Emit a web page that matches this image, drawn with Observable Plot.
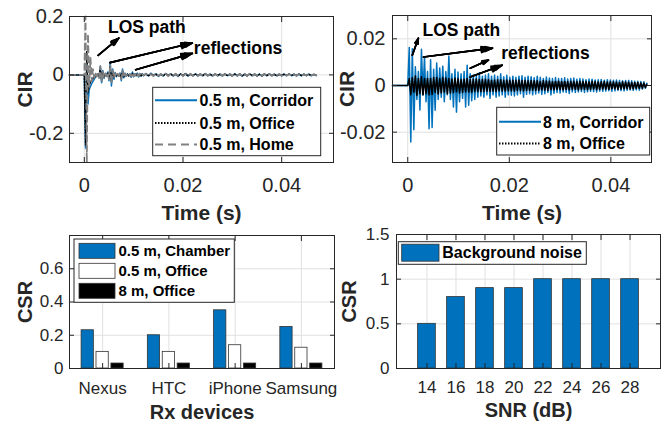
<!DOCTYPE html>
<html><head><meta charset="utf-8">
<script src="https://cdn.jsdelivr.net/npm/d3@7"></script>
<script src="https://cdn.jsdelivr.net/npm/@observablehq/plot@0.6"></script>
<style>
html,body{margin:0;padding:0;background:#fff;}
#root{position:relative;width:668px;height:423px;overflow:hidden;font-family:"Liberation Sans",Arial,sans-serif;}
.panel{position:absolute;}
#overlay{position:absolute;left:0;top:0;pointer-events:none;}
</style></head><body><div id="root"></div>
<script>
// ================= DATA =================
// --- Top-left: CIR at 0.5 m (Corridor / Office / Home)
const tlSeriesNames = ["0.5 m, Corridor", "0.5 m, Office", "0.5 m, Home"];
const tlRecordStart = -0.003;           // pre-trigger start (s), value 0
const tlHeadStep = 0.00025;             // samples from t = 0
const tlTailStart = 0.0125, tlTailStep = 0.0005;
const tlCorridorHead = [0,-0.25,0.05,-0.1,-0.05,-0.04,-0.03,-0.022,-0.015,-0.008,-0.004,0.002,-0.01,0.03,-0.027,0.015,-0.012,0.005,-0.004,0.01,-0.02,0.043,-0.038,0.02,-0.015,0.008,-0.006,0.004,-0.004,0.006,-0.02,0.02,-0.01,0.006,-0.005,0.004,-0.004,0.003,-0.008,0.01,-0.006,0.004,-0.003,0.006,-0.007,0.005,-0.004,0.004,-0.003];
const tlOfficeHead = [0,-0.24,0.08,-0.06,-0.035,-0.025,-0.018,-0.012,-0.008,-0.005,-0.002,0.003,-0.006,0.022,-0.018,0.01,-0.008,0.004,-0.003,0.006,-0.012,0.028,-0.022,0.012,-0.009,0.005,-0.004,0.003,-0.003,0.004,-0.012,0.012,-0.006,0.004,-0.003,0.003,-0.003,0.002,-0.005,0.006,-0.004,0.003,-0.002,0.004,-0.004,0.003,-0.003,0.003,-0.002];
const tlHomeHead = [0,0.2,-0.3,0.14,-0.04,0.06,-0.02,0.02,-0.01,0.008,-0.006,0.005,-0.01,0.03,-0.025,0.012,-0.01,0.005,-0.005,0.008,-0.015,0.035,-0.03,0.015,-0.01,0.006,-0.005,0.004,-0.004,0.005,-0.015,0.015,-0.008,0.005,-0.004,0.003,-0.003,0.003,-0.006,0.007,-0.005,0.003,-0.003,0.005,-0.005,0.004,-0.003,0.003,-0.002];
const tlCorridorTail = [.005,-.004,.006,-.003,.004,-.005,.003,-.004,.005,-.003,.004,-.004,.003,-.005,.004,-.003,.005,-.004,.003,-.003,.004,-.004,.003,-.003,.005,-.003,.003,-.004,.004,-.003,.003,-.004,.004,-.003,.003,-.003,.004,-.003,.003,-.004,.003,-.003,.004,-.003,.003,-.003,.003,-.004,.003,-.003,.004,-.003,.003,-.003,.003,-.003,.003,-.003,.004,-.003,.003,-.003,.003,-.003,.003,-.002,.003,-.003,.002,-.002];
const tlOfficeTail = [.003,-.003,.004,-.002,.003,-.004,.002,-.003,.004,-.002,.003,-.003,.002,-.004,.003,-.002,.004,-.003,.002,-.003,.003,-.002,.003,-.003,.004,-.002,.002,-.003,.003,-.002,.003,-.003,.003,-.002,.002,-.003,.003,-.002,.003,-.003,.002,-.003,.003,-.002,.002,-.003,.002,-.003,.003,-.002,.003,-.002,.002,-.003,.002,-.002,.003,-.002,.003,-.002,.002,-.002,.003,-.002,.002,-.002,.002,-.002,.002,-.001];
const tlHomeTail = [.004,-.003,.003,-.004,.004,-.003,.003,-.003,.004,-.004,.003,-.003,.004,-.003,.003,-.004,.003,-.003,.004,-.003,.003,-.003,.003,-.004,.003,-.003,.004,-.003,.003,-.003,.004,-.003,.003,-.003,.003,-.004,.003,-.003,.003,-.003,.003,-.003,.004,-.003,.003,-.003,.003,-.003,.003,-.003,.003,-.003,.003,-.002,.003,-.003,.003,-.002,.003,-.003,.002,-.003,.003,-.002,.002,-.002,.003,-.002,.002,-.002];
const tlXTicks = [0, 0.02, 0.04], tlXTickLabels = ["0", "0.02", "0.04"];
const tlYTicks = [-0.2, 0, 0.2], tlYTickLabels = ["-0.2", "0", "0.2"];
const tlArrows = [
  {x1: 0.0028, y1: 0.067, x2: 0.0070, y2: 0.126},
  {x1: 0.0052, y1: 0.042, x2: 0.0219, y2: 0.109},
  {x1: 0.0104, y1: 0.0175, x2: 0.0219, y2: 0.0737}
];
const tlNotes = [{t: 0.0048, v: 0.161, label: "LOS path"}, {t: 0.0222, v: 0.091, label: "reflections"}];

// --- Top-right: CIR at 8 m (Corridor / Office)
const trSeriesNames = ["8 m, Corridor", "8 m, Office"];
const trRecordStart = -0.003;
const trStep = 0.0003;                  // samples from t = 0
const trCorridor = [
0,.0163,-.0242,.0158,-.019,.008,-.006,.006,-.0105,.0155,
-.004,.0123,-.007,.006,-.0185,.011,-.018,.007,-.0106,.0096,
-.006,.0075,-.005,.0083,-.007,.006,-.004,.0126,-.006,.005,
-.0092,.007,-.0114,.0058,-.007,.005,-.0055,.006,-.0092,.0087,
-.0085,.005,-.0065,.0045,-.006,.004,-.005,.0055,-.0045,.004,
-.005,.0045,-.004,.005,-.0055,.004,-.004,.0045,-.005,.004,
-.0045,.005,-.004,.0038,-.005,.0044,-.004,.0035,-.0042,.004,
-.0045,.0035,-.004,.004,-.0035,.0042,-.005,.0035,-.0038,.004,
-.0035,.0038,-.004,.0033,-.0036,.004,-.0032,.0035,-.0038,.003,
-.0035,.0036,-.003,.0032,-.004,.003,-.0033,.0034,-.003,.003,
-.0032,.003,-.0028,.0033,-.003,.0028,-.0034,.003,-.0027,.0032,
-.003,.0027,-.0028,.003,-.0026,.0028,-.003,.0025,-.0027,.0028,
-.0025,.0027,-.0026,.0024,-.0028,.0025,-.0024,.0026,-.0025,.0023,
-.0024,.0025,-.0022,.0024,-.0025,.0022,-.0023,.0024,-.0021,.0022,
-.0022,.002,-.0023,.0021,-.002,.0022,-.0019,.002,-.0021,.0018,
-.0019,.0018,-.002,.0017,-.0015,.0016,-.0012,.001];
const trOffice = [
0,.003,-.004,.0035,-.003,.004,-.0042,.003,-.0035,.0037,
-.004,.003,-.0035,.0032,-.004,.003,-.0038,.0035,-.003,.0034,
-.0036,.003,-.0032,.0035,-.003,.0033,-.0035,.003,-.0032,.0028,
-.003,.0032,-.0028,.003,-.0032,.0027,-.003,.0028,-.0027,.003,
-.0028,.0026,-.003,.0027,-.0025,.0028,-.0026,.0025,-.0028,.0026,
-.0025,.0027,-.0024,.0025,-.0026,.0024,-.0025,.0023,-.0026,.0024,
-.0023,.0025,-.0024,.0022,-.0025,.0023,-.0022,.0024,-.0023,.0022,
-.0024,.0022,-.0021,.0023,-.0022,.0021,-.0023,.0022,-.0021,.002,
-.0022,.0021,-.002,.0022,-.0021,.002,-.0021,.0019,-.002,.0021,
-.002,.0019,-.0021,.002,-.0019,.0018,-.002,.0019,-.0018,.002,
-.0019,.0018,-.002,.0019,-.0018,.0017,-.0019,.0018,-.0017,.0019,
-.0018,.0017,-.0019,.0018,-.0017,.0018,-.0016,.0017,-.0018,.0016,
-.0017,.0018,-.0016,.0017,-.0018,.0016,-.0017,.0016,-.0015,.0017,
-.0016,.0015,-.0017,.0016,-.0015,.0016,-.0014,.0015,-.0016,.0014,
-.0015,.0016,-.0014,.0015,-.0013,.0014,-.0015,.0013,-.0014,.0013,
-.0012,.0013,-.0012,.0011,-.0012,.001,-.0008,.0006];
const trXTicks = [0, 0.02, 0.04], trXTickLabels = ["0", "0.02", "0.04"];
const trYTicks = [-0.02, 0, 0.02], trYTickLabels = ["-0.02", "0", "0.02"];
const trArrows = [
  {x1: 0.0009, y1: 0.0130, x2: 0.0021, y2: 0.0203},
  {x1: 0.0031, y1: 0.0122, x2: 0.0167, y2: 0.0160},
  {x1: 0.0123, y1: 0.0074, x2: 0.0159, y2: 0.0109},
  {x1: 0.0123, y1: 0.0036, x2: 0.0186, y2: 0.0087}
];
const trNotes = [{t: 0.0029, v: 0.0238, label: "LOS path"}, {t: 0.0184, v: 0.0139, label: "reflections"}];

// --- Bottom-left: CSR per Rx device
const devices = ["Nexus", "HTC", "iPhone", "Samsung"];
const blSeriesNames = ["0.5 m, Chamber", "0.5 m, Office", "8 m, Office"];
const csrChamber05 = [0.23, 0.20, 0.35, 0.25];
const csrOffice05 = [0.10, 0.10, 0.14, 0.125];
const csrOffice8 = [0.03, 0.03, 0.03, 0.03];
const blYTicks = [0, 0.2, 0.4, 0.6], blYTickLabels = ["0", "0.2", "0.4", "0.6"];

// --- Bottom-right: CSR vs SNR
const snrValues = [14, 16, 18, 20, 22, 24, 26, 28];
const csrNoise = [0.5, 0.8, 0.9, 0.9, 1, 1, 1, 1];
const brSeriesName = "Background noise";
const brYTicks = [0, 0.5, 1, 1.5], brYTickLabels = ["0", "0.5", "1", "1.5"];

// ================= STYLE =================
const FONT = '"Liberation Sans", Arial, sans-serif';
const INK = "#262626", GRID = "#e0e0e0", BLUE = "#0072BD", GRAY = "#808080";

// ================= BUILD =================
const root = document.getElementById("root");
function place(svg, left, top) {
  const d = document.createElement("div");
  d.className = "panel"; d.style.left = left + "px"; d.style.top = top + "px";
  d.appendChild(svg); root.appendChild(d);
}
function lbl(ticks, labels) { return d => labels[ticks.indexOf(d)]; }

function chrome(o) {
  return [
    Plot.axisX(o.xTicks, {tickSize: -5, tickPadding: o.xPad, tickFormat: lbl(o.xTicks, o.xLabels), fontSize: o.tick, color: INK, label: null}),
    Plot.axisX(o.xTicks, {anchor: "top", tickSize: -5, tickFormat: () => "", color: INK, label: null}),
    Plot.axisY(o.yTicks, {tickSize: -5, tickPadding: o.yPad, tickFormat: lbl(o.yTicks, o.yLabels), fontSize: o.tick, color: INK, label: null}),
    Plot.axisY(o.yTicks, {anchor: "right", tickSize: -5, tickFormat: () => "", color: INK, label: null}),
    Plot.frame({stroke: INK, strokeWidth: 1}),
    Plot.text([o.xTitle], {frameAnchor: "bottom", lineAnchor: "middle", textAnchor: "middle", dy: o.xTitleDy, fontWeight: "bold", fontSize: o.title, fill: INK}),
    Plot.text([o.yTitle], {frameAnchor: "left", lineAnchor: "middle", textAnchor: "middle", rotate: -90, dx: o.yTitleDx, fontWeight: "bold", fontSize: o.title, fill: INK})
  ];
}
function grids(o) {
  return [Plot.gridX(o.xTicks, {stroke: GRID, strokeOpacity: 1}), Plot.gridY(o.yTicks, {stroke: GRID, strokeOpacity: 1})];
}
// annotation arrows with solid-looking heads (stacked head angles)
function arrows(data) {
  return [40, 30, 20, 10].map((a, i) => Plot.arrow(data, {
    x1: "x1", y1: "y1", x2: "x2", y2: "y2", stroke: "black",
    strokeWidth: i === 0 ? 1.1 : 1.6, headLength: 11, headAngle: a
  }));
}
const baseStyle = {fontFamily: FONT, background: "transparent", overflow: "visible", color: INK};

// --- top-left
function tlSeries(head, tail, name) {
  const pts = [{t: tlRecordStart, v: 0, s: name}];
  head.forEach((v, i) => pts.push({t: i * tlHeadStep, v, s: name}));
  tail.forEach((v, i) => pts.push({t: tlTailStart + i * tlTailStep, v, s: name}));
  return pts;
}
const tlCorr = tlSeries(tlCorridorHead, tlCorridorTail, tlSeriesNames[0]);
const tlOff = tlSeries(tlOfficeHead, tlOfficeTail, tlSeriesNames[1]);
const tlHome = tlSeries(tlHomeHead, tlHomeTail, tlSeriesNames[2]);
const tlOpt = {xTicks: tlXTicks, xLabels: tlXTickLabels, yTicks: tlYTicks, yLabels: tlYTickLabels, xPad: 20, yPad: 11, tick: 20, title: 21, xTitle: "Time (s)", yTitle: "CIR", xTitleDy: 51, yTitleDx: -44};
place(Plot.plot({
  width: 334, height: 230, marginTop: 16, marginRight: 1, marginBottom: 68, marginLeft: 69,
  style: baseStyle,
  x: {domain: [-0.003, 0.0505]}, y: {domain: [-0.3, 0.2]},
  marks: [
    ...grids(tlOpt),
    Plot.line(tlCorr, {x: "t", y: "v", stroke: BLUE, strokeWidth: 1.5}),
    Plot.line(tlOff, {x: "t", y: "v", stroke: "black", strokeWidth: 1.5, strokeDasharray: "1.5,1.5"}),
    Plot.line(tlHome, {x: "t", y: "v", stroke: GRAY, strokeWidth: 1.8, strokeDasharray: "6,4"}),
    ...arrows(tlArrows),
    Plot.text(tlNotes, {x: "t", y: "v", text: "label", textAnchor: "start", fontWeight: "bold", fontSize: 17.5, fill: "black"}),
    ...chrome(tlOpt)
  ]
}), 0, 0);

// --- top-right
function trSeries(vals, name) {
  const pts = [{t: trRecordStart, v: 0, s: name}];
  vals.forEach((v, i) => pts.push({t: i * trStep, v, s: name}));
  return pts;
}
const trCorr = trSeries(trCorridor, trSeriesNames[0]);
const trOff = trSeries(trOffice, trSeriesNames[1]);
const trOpt = {xTicks: trXTicks, xLabels: trXTickLabels, yTicks: trYTicks, yLabels: trYTickLabels, xPad: 20, yPad: 12, tick: 20, title: 21, xTitle: "Time (s)", yTitle: "CIR", xTitleDy: 51, yTitleDx: -45};
place(Plot.plot({
  width: 334, height: 230, marginTop: 15, marginRight: 17, marginBottom: 68, marginLeft: 58,
  style: baseStyle,
  x: {domain: [-0.003, 0.048]}, y: {domain: [-0.033, 0.030]},
  marks: [
    ...grids(trOpt),
    Plot.line(trCorr, {x: "t", y: "v", stroke: BLUE, strokeWidth: 1.5}),
    Plot.line(trOff, {x: "t", y: "v", stroke: "black", strokeWidth: 1.6, strokeDasharray: "2,1"}),
    ...arrows(trArrows),
    Plot.text(trNotes, {x: "t", y: "v", text: "label", textAnchor: "start", fontWeight: "bold", fontSize: 17.5, fill: "black"}),
    ...chrome(trOpt)
  ]
}), 334, 0);

// --- bottom-left (grouped bars)
const groupOffset = [-0.225, 0, 0.225], barHalf = 0.0925;
const blFills = [BLUE, "white", "black"];
const blValues = [csrChamber05, csrOffice05, csrOffice8];
const blXTicks = devices.map((d, i) => i + 1);
const blOpt = {xTicks: blXTicks, xLabels: devices, yTicks: blYTicks, yLabels: blYTickLabels, xPad: 18, yPad: 11, tick: 17, title: 20, xTitle: "Rx devices", yTitle: "CSR", xTitleDy: 44, yTitleDx: -44};
const blBars = blValues.map((vals, k) => vals.map((v, i) => ({pos: i + 1 + groupOffset[k], v, s: blSeriesNames[k]})));
place(Plot.plot({
  width: 335, height: 208, marginTop: 20, marginRight: 1, marginBottom: 55, marginLeft: 69,
  style: baseStyle,
  x: {domain: [0.5, 4.5]}, y: {domain: [0, 0.8]},
  marks: [
    ...grids(blOpt),
    ...blBars.map((rows, k) => Plot.rectY(rows, {x1: d => d.pos - barHalf, x2: d => d.pos + barHalf, y1: 0, y2: "v", fill: blFills[k], stroke: "#333", strokeWidth: 0.8})),
    ...chrome(blOpt)
  ]
}), 0, 215);

// --- bottom-right
const brHalf = 0.61;
const brXTickLabels = snrValues.map(String);
const brOpt = {xTicks: snrValues, xLabels: brXTickLabels, yTicks: brYTicks, yLabels: brYTickLabels, xPad: 17, yPad: 12, tick: 17, title: 20, xTitle: "SNR (dB)", yTitle: "CSR", xTitleDy: 42.5, yTitleDx: -47};
const brRows = snrValues.map((s, i) => ({snr: s, v: csrNoise[i]}));
place(Plot.plot({
  width: 334, height: 208, marginTop: 19, marginRight: 8, marginBottom: 55, marginLeft: 62,
  style: baseStyle,
  x: {domain: [11.9, 30.1]}, y: {domain: [0, 1.5]},
  marks: [
    ...grids(brOpt),
    Plot.rectY(brRows, {x1: d => d.snr - brHalf, x2: d => d.snr + brHalf, y1: 0, y2: "v", fill: BLUE, stroke: "#333", strokeWidth: 0.8}),
    ...chrome(brOpt)
  ]
}), 334, 215);

// ================= LEGENDS (overlay) =================
const ov = d3.select(root).append("svg").attr("id", "overlay").attr("width", 668).attr("height", 423)
  .style("font-family", FONT);
function box(x, y, w, h) {
  ov.append("rect").attr("x", x).attr("y", y).attr("width", w).attr("height", h)
    .attr("fill", "white").attr("stroke", INK).attr("stroke-width", 1);
}
function lineLegend(bx, by, bw, bh, x0, x1, tx, rows, fs) {
  box(bx, by, bw, bh);
  rows.forEach(r => {
    ov.append("line").attr("x1", x0).attr("x2", x1).attr("y1", r.y).attr("y2", r.y)
      .attr("stroke", r.stroke).attr("stroke-width", r.w).attr("stroke-dasharray", r.dash || null);
    ov.append("text").attr("x", tx).attr("y", r.y + 0.36 * fs).attr("font-size", fs)
      .attr("font-weight", "bold").attr("fill", "black").text(r.name);
  });
}
lineLegend(152.7, 87.3, 168, 68.4, 155, 197, 199.5, [
  {y: 100.3, name: tlSeriesNames[0], stroke: BLUE, w: 2},
  {y: 123, name: tlSeriesNames[1], stroke: "black", w: 2, dash: "1.5,1.5"},
  {y: 144.5, name: tlSeriesNames[2], stroke: GRAY, w: 2, dash: "8,5"}
], 16);
lineLegend(496.7, 107.3, 153, 47.7, 499, 541, 543, [
  {y: 121.8, name: trSeriesNames[0], stroke: BLUE, w: 2},
  {y: 143.5, name: trSeriesNames[1], stroke: "black", w: 2, dash: "1.5,1.5"}
], 16);
function swatchLegend(bx, by, bw, bh, sx, sw, sh, tx, rows, fs) {
  box(bx, by, bw, bh);
  rows.forEach(r => {
    ov.append("rect").attr("x", sx).attr("y", r.y - sh / 2).attr("width", sw).attr("height", sh)
      .attr("fill", r.fill).attr("stroke", "#333").attr("stroke-width", 0.8);
    ov.append("text").attr("x", tx).attr("y", r.y + 0.36 * fs).attr("font-size", fs)
      .attr("font-weight", "bold").attr("fill", "black").text(r.name);
  });
}
swatchLegend(74, 239, 160.3, 63.3, 79, 36, 15, 118.5, blSeriesNames.map((n, k) => ({y: 250.8 + 20 * k, name: n, fill: blFills[k]})), 15);
swatchLegend(398.3, 241.7, 188, 22.6, 401.7, 37.3, 17, 442.3, [{y: 252.7, name: brSeriesName, fill: BLUE}], 16);
</script></body></html>
